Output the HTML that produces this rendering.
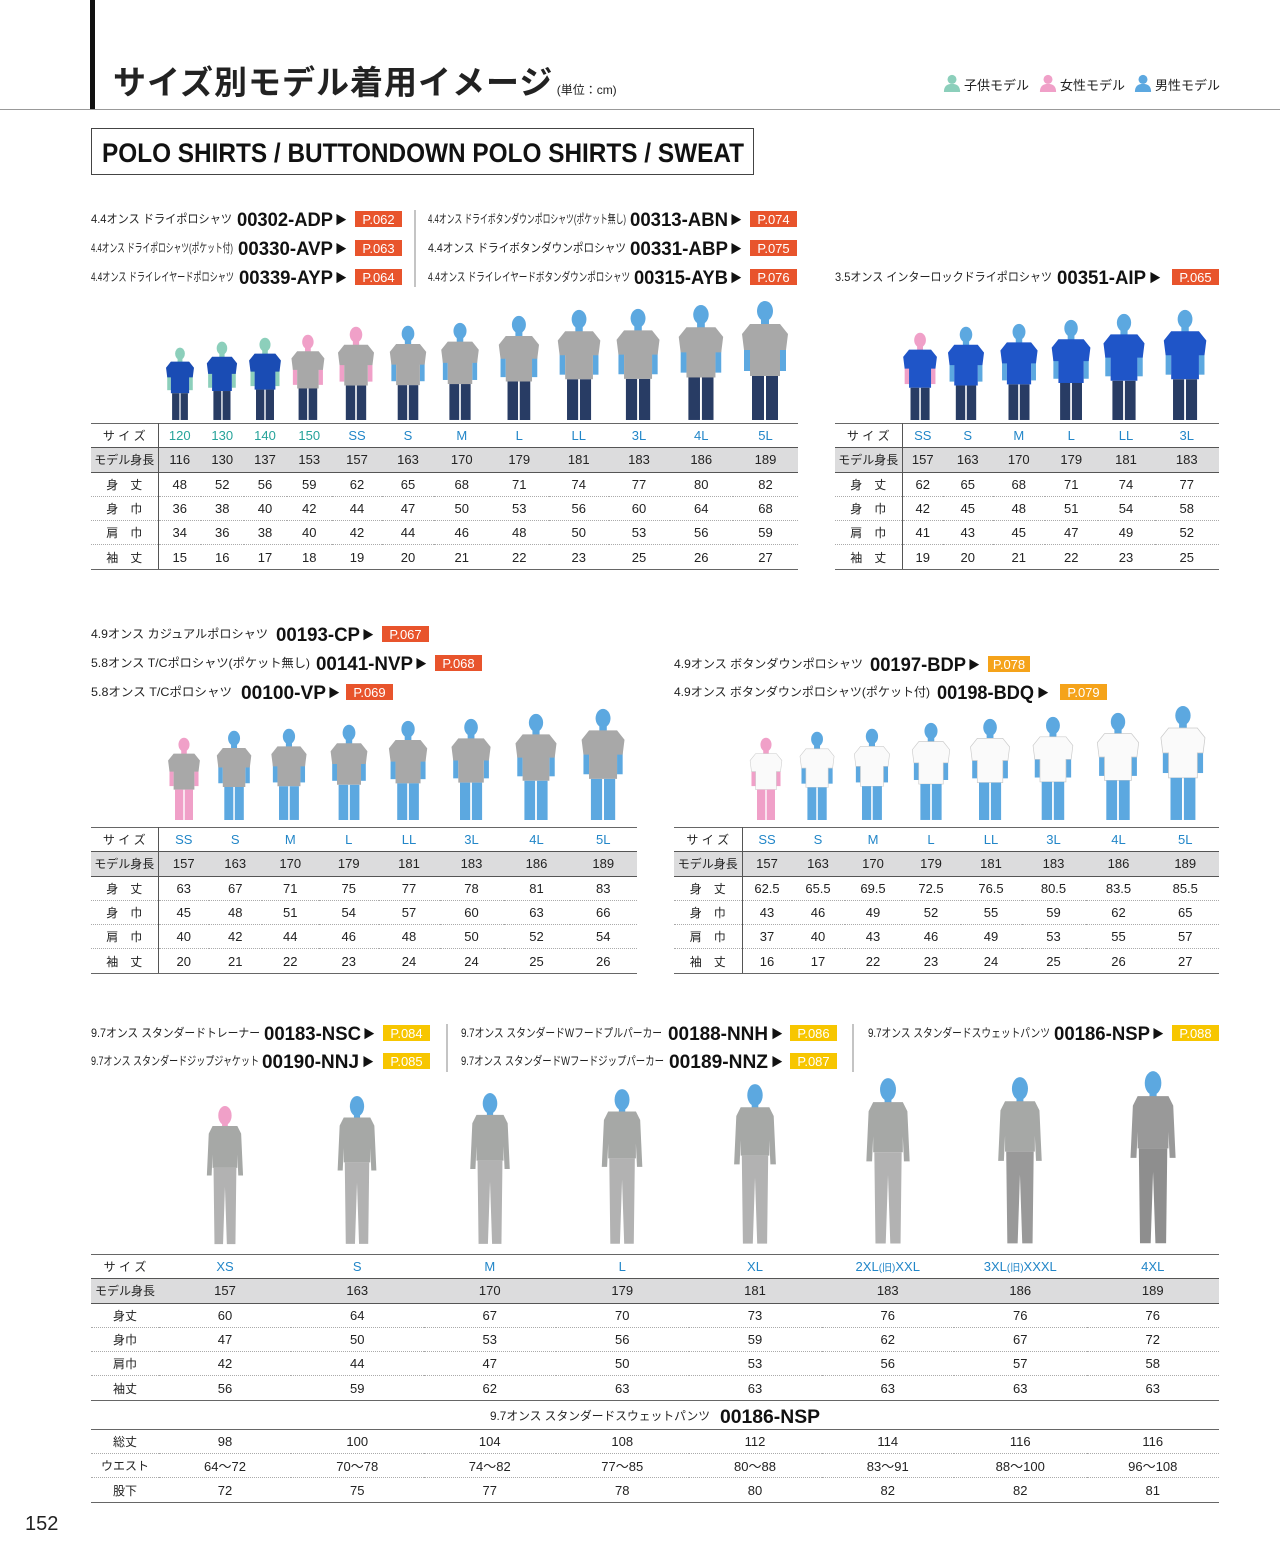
<!DOCTYPE html>
<html><head><meta charset="utf-8">
<style>
*{margin:0;padding:0;box-sizing:border-box}
body{width:1280px;height:1566px;position:relative;background:#fff;font-family:"Liberation Sans","Noto Sans CJK JP",sans-serif;color:#222;overflow:hidden}
.abs{position:absolute}
table{position:absolute;border-collapse:collapse;table-layout:fixed;font-size:13px}
td{height:24.3px;padding:0;text-align:center;white-space:nowrap}
tr.h td{color:#2286c8;border-top:1.5px solid #666;border-bottom:1px solid #555}
tr.h td.k{color:#26a39a}
tr.m td{background:#dcdcdd;border-bottom:1px solid #555}
tr.d td{border-bottom:1px dotted #aaa}
tr.z td{border-bottom:1.5px solid #666}
td.l{border-right:1px solid #555;font-size:12px}
svg text{font-family:"Liberation Sans","Noto Sans CJK JP",sans-serif}
.s{font-size:12px;fill:#222}
.c{font-size:19px;font-weight:bold;fill:#111}
.a{font-size:12px;fill:#111}
.bt{font-size:13px;fill:#fff}
</style></head><body>

<div class="abs" style="left:90px;top:0;width:5px;height:109px;background:#111"></div>
<div class="abs" style="left:0;top:109px;width:1280px;height:1px;background:#999"></div>
<div class="abs" style="left:113px;top:56px;font-size:33px;font-weight:bold;letter-spacing:1px;white-space:nowrap">サイズ別モデル着用イメージ<span style="font-size:12px;font-weight:normal;letter-spacing:0"> (単位：cm)</span></div>
<div class="abs" style="left:964px;top:75px;font-size:13px">子供モデル</div>
<div class="abs" style="left:1060px;top:75px;font-size:13px">女性モデル</div>
<div class="abs" style="left:1155px;top:75px;font-size:13px">男性モデル</div>

<div class="abs" style="left:91px;top:128px;width:663px;height:47px;border:1px solid #444"></div>

<svg class="abs" style="left:0;top:0" width="1280" height="1566">
<defs>
<symbol id="po" viewBox="0 0 50 120">
<ellipse cx="25" cy="11" rx="8" ry="10" fill="var(--h)"/>
<rect x="21" y="18" width="8" height="8" fill="var(--h)"/>
<rect x="4" y="45" width="6" height="26" fill="var(--h)"/>
<rect x="40" y="45" width="6" height="26" fill="var(--h)"/>
<path d="M10 24 L40 24 L48 34 L46 50 L40 50 L40 76 L10 76 L10 50 L4 50 L2 34 Z" fill="var(--s)" stroke="var(--k)" stroke-width="0.8"/>
<rect x="12" y="76" width="12" height="44" fill="var(--l)"/>
<rect x="26" y="76" width="12" height="44" fill="var(--l)"/>
</symbol>
<symbol id="sw" viewBox="0 0 40 150">
<ellipse cx="20" cy="11" rx="7" ry="10" fill="var(--h)"/>
<rect x="17" y="18" width="6" height="6" fill="var(--h)"/>
<path d="M7 22 L33 22 L37 30 L39 74 L34 74 L33 52 L33 66 L7 66 L7 52 L6 74 L1 74 L3 30 Z" fill="var(--s)"/>
<path d="M8 66 L32 66 L31 146 L22 146 L20 86 L18 146 L9 146 Z" fill="var(--p)"/>
</symbol>
<symbol id="ic" viewBox="0 0 20 20"><circle cx="10" cy="6" r="5" fill="var(--h)"/><path d="M1 20 Q1 11 10 11 Q19 11 19 20 Z" fill="var(--h)"/></symbol>
</defs>

<text x="102" y="162" font-size="27" font-weight="bold" fill="#111" textLength="642" lengthAdjust="spacingAndGlyphs">POLO SHIRTS / BUTTONDOWN POLO SHIRTS / SWEAT</text>

<use href="#ic" x="943" y="73" width="18" height="20" style="--h:#8ccfbb"/>
<use href="#ic" x="1039" y="73" width="18" height="20" style="--h:#f0a0c8"/>
<use href="#ic" x="1134" y="73" width="18" height="20" style="--h:#5ca8e0"/>

<line x1="415" y1="210" x2="415" y2="287" stroke="#888"/>
<line x1="447" y1="1024" x2="447" y2="1072" stroke="#888"/>
<line x1="853" y1="1024" x2="853" y2="1072" stroke="#888"/>

<g>
<text class="s" x="91" y="223" textLength="141" lengthAdjust="spacingAndGlyphs">4.4オンス ドライポロシャツ</text>
<text class="c" x="237" y="226" textLength="96" lengthAdjust="spacingAndGlyphs">00302-ADP</text>
<text class="a" x="335" y="224">▶</text>
<rect x="355" y="211" width="47" height="16" fill="#e8542c"/><text class="bt" x="378.5" y="224" text-anchor="middle">P.062</text>

<text class="s" x="91" y="252" textLength="142" lengthAdjust="spacingAndGlyphs">4.4オンス ドライポロシャツ(ポケット付)</text>
<text class="c" x="238" y="255" textLength="95" lengthAdjust="spacingAndGlyphs">00330-AVP</text>
<text class="a" x="335" y="253">▶</text>
<rect x="355" y="240" width="47" height="16" fill="#e8542c"/><text class="bt" x="378.5" y="253" text-anchor="middle">P.063</text>

<text class="s" x="91" y="281" textLength="143" lengthAdjust="spacingAndGlyphs">4.4オンス ドライレイヤードポロシャツ</text>
<text class="c" x="239" y="284" textLength="94" lengthAdjust="spacingAndGlyphs">00339-AYP</text>
<text class="a" x="335" y="282">▶</text>
<rect x="355" y="269" width="47" height="16" fill="#e8542c"/><text class="bt" x="378.5" y="282" text-anchor="middle">P.064</text>

<text class="s" x="428" y="223" textLength="198" lengthAdjust="spacingAndGlyphs">4.4オンス ドライボタンダウンポロシャツ(ポケット無し)</text>
<text class="c" x="630" y="226" textLength="98" lengthAdjust="spacingAndGlyphs">00313-ABN</text>
<text class="a" x="730" y="224">▶</text>
<rect x="750" y="211" width="47" height="16" fill="#e8542c"/><text class="bt" x="773.5" y="224" text-anchor="middle">P.074</text>

<text class="s" x="428" y="252" textLength="198" lengthAdjust="spacingAndGlyphs">4.4オンス ドライボタンダウンポロシャツ</text>
<text class="c" x="630" y="255" textLength="98" lengthAdjust="spacingAndGlyphs">00331-ABP</text>
<text class="a" x="730" y="253">▶</text>
<rect x="750" y="240" width="47" height="16" fill="#e8542c"/><text class="bt" x="773.5" y="253" text-anchor="middle">P.075</text>

<text class="s" x="428" y="281" textLength="202" lengthAdjust="spacingAndGlyphs">4.4オンス ドライレイヤードボタンダウンポロシャツ</text>
<text class="c" x="634" y="284" textLength="94" lengthAdjust="spacingAndGlyphs">00315-AYB</text>
<text class="a" x="730" y="282">▶</text>
<rect x="750" y="269" width="47" height="16" fill="#e8542c"/><text class="bt" x="773.5" y="282" text-anchor="middle">P.076</text>

<text class="s" x="835" y="281" textLength="217" lengthAdjust="spacingAndGlyphs">3.5オンス インターロックドライポロシャツ</text>
<text class="c" x="1057" y="284" textLength="89" lengthAdjust="spacingAndGlyphs">00351-AIP</text>
<text class="a" x="1149" y="282">▶</text>
<rect x="1172" y="269" width="47" height="16" fill="#e8542c"/><text class="bt" x="1195.5" y="282" text-anchor="middle">P.065</text>
</g>

<g>
<text class="s" x="91" y="638" textLength="177" lengthAdjust="spacingAndGlyphs">4.9オンス カジュアルポロシャツ</text>
<text class="c" x="276" y="641" textLength="84" lengthAdjust="spacingAndGlyphs">00193-CP</text>
<text class="a" x="362" y="639">▶</text>
<rect x="382" y="626" width="47" height="16" fill="#e8542c"/><text class="bt" x="405.5" y="639" text-anchor="middle">P.067</text>

<text class="s" x="91" y="667" textLength="219" lengthAdjust="spacingAndGlyphs">5.8オンス T/Cポロシャツ(ポケット無し)</text>
<text class="c" x="316" y="670" textLength="97" lengthAdjust="spacingAndGlyphs">00141-NVP</text>
<text class="a" x="415" y="668">▶</text>
<rect x="435" y="655" width="47" height="16" fill="#e8542c"/><text class="bt" x="458.5" y="668" text-anchor="middle">P.068</text>

<text class="s" x="91" y="696" textLength="141" lengthAdjust="spacingAndGlyphs">5.8オンス T/Cポロシャツ</text>
<text class="c" x="241" y="699" textLength="85" lengthAdjust="spacingAndGlyphs">00100-VP</text>
<text class="a" x="328" y="697">▶</text>
<rect x="346" y="684" width="47" height="16" fill="#e8542c"/><text class="bt" x="369.5" y="697" text-anchor="middle">P.069</text>

<text class="s" x="674" y="668" textLength="189" lengthAdjust="spacingAndGlyphs">4.9オンス ボタンダウンポロシャツ</text>
<text class="c" x="870" y="671" textLength="96" lengthAdjust="spacingAndGlyphs">00197-BDP</text>
<text class="a" x="968" y="669">▶</text>
<rect x="988" y="656" width="42" height="16" fill="#f5a31a"/><text class="bt" x="1009" y="669" text-anchor="middle">P.078</text>

<text class="s" x="674" y="696" textLength="256" lengthAdjust="spacingAndGlyphs">4.9オンス ボタンダウンポロシャツ(ポケット付)</text>
<text class="c" x="937" y="699" textLength="97" lengthAdjust="spacingAndGlyphs">00198-BDQ</text>
<text class="a" x="1037" y="697">▶</text>
<rect x="1060" y="684" width="47" height="16" fill="#f5a31a"/><text class="bt" x="1083.5" y="697" text-anchor="middle">P.079</text>
</g>

<g>
<text class="s" x="91" y="1037" textLength="169" lengthAdjust="spacingAndGlyphs">9.7オンス スタンダードトレーナー</text>
<text class="c" x="264" y="1040" textLength="97" lengthAdjust="spacingAndGlyphs">00183-NSC</text>
<text class="a" x="363" y="1038">▶</text>
<rect x="383" y="1025" width="47" height="16" fill="#f7c600"/><text class="bt" x="406.5" y="1038" text-anchor="middle">P.084</text>

<text class="s" x="91" y="1065" textLength="168" lengthAdjust="spacingAndGlyphs">9.7オンス スタンダードジップジャケット</text>
<text class="c" x="262" y="1068" textLength="97" lengthAdjust="spacingAndGlyphs">00190-NNJ</text>
<text class="a" x="362" y="1066">▶</text>
<rect x="383" y="1053" width="47" height="16" fill="#f7c600"/><text class="bt" x="406.5" y="1066" text-anchor="middle">P.085</text>

<text class="s" x="461" y="1037" textLength="201" lengthAdjust="spacingAndGlyphs">9.7オンス スタンダードWフードプルパーカー</text>
<text class="c" x="668" y="1040" textLength="100" lengthAdjust="spacingAndGlyphs">00188-NNH</text>
<text class="a" x="771" y="1038">▶</text>
<rect x="790" y="1025" width="47" height="16" fill="#f7c600"/><text class="bt" x="813.5" y="1038" text-anchor="middle">P.086</text>

<text class="s" x="461" y="1065" textLength="203" lengthAdjust="spacingAndGlyphs">9.7オンス スタンダードWフードジップパーカー</text>
<text class="c" x="669" y="1068" textLength="99" lengthAdjust="spacingAndGlyphs">00189-NNZ</text>
<text class="a" x="771" y="1066">▶</text>
<rect x="790" y="1053" width="47" height="16" fill="#f7c600"/><text class="bt" x="813.5" y="1066" text-anchor="middle">P.087</text>

<text class="s" x="868" y="1037" textLength="182" lengthAdjust="spacingAndGlyphs">9.7オンス スタンダードスウェットパンツ</text>
<text class="c" x="1054" y="1040" textLength="96" lengthAdjust="spacingAndGlyphs">00186-NSP</text>
<text class="a" x="1152" y="1038">▶</text>
<rect x="1172" y="1025" width="47" height="16" fill="#f7c600"/><text class="bt" x="1195.5" y="1038" text-anchor="middle">P.088</text>

<text class="s" x="490" y="1420" textLength="220" lengthAdjust="spacingAndGlyphs">9.7オンス スタンダードスウェットパンツ</text>
<text class="c" x="720" y="1423" textLength="100" lengthAdjust="spacingAndGlyphs">00186-NSP</text>
</g>

<g style="--k:none;--l:#283c64">
<use href="#po" x="164.8" y="347" width="30.4" height="73" style="--h:#8ccfbb;--s:#1a4cb4"/>
<use href="#po" x="205.5" y="341" width="32.9" height="79" style="--h:#8ccfbb;--s:#1a4cb4"/>
<use href="#po" x="247.7" y="337" width="34.6" height="83" style="--h:#8ccfbb;--s:#1a4cb4"/>
<use href="#po" x="290" y="334" width="35.8" height="86" style="--h:#f0a0c8;--s:#a8a8a8"/>
<use href="#po" x="336.4" y="326" width="39.2" height="94" style="--h:#f0a0c8;--s:#a8a8a8"/>
<use href="#po" x="388.2" y="325" width="39.6" height="95" style="--h:#5ca8e0;--s:#a8a8a8"/>
<use href="#po" x="439.6" y="322" width="40.8" height="98" style="--h:#5ca8e0;--s:#a8a8a8"/>
<use href="#po" x="497" y="315" width="43.8" height="105" style="--h:#5ca8e0;--s:#a8a8a8"/>
<use href="#po" x="555.9" y="309" width="46.3" height="111" style="--h:#5ca8e0;--s:#a8a8a8"/>
<use href="#po" x="614.7" y="308" width="46.7" height="112" style="--h:#5ca8e0;--s:#a8a8a8"/>
<use href="#po" x="676.8" y="304" width="48.3" height="116" style="--h:#5ca8e0;--s:#a8a8a8"/>
<use href="#po" x="740" y="300" width="50" height="120" style="--h:#5ca8e0;--s:#a8a8a8"/>

<use href="#po" x="901.7" y="332" width="36.7" height="88" style="--h:#f0a0c8;--s:#1f55c8"/>
<use href="#po" x="946.4" y="326" width="39.2" height="94" style="--h:#5ca8e0;--s:#1f55c8"/>
<use href="#po" x="998.8" y="323" width="40.4" height="97" style="--h:#5ca8e0;--s:#1f55c8"/>
<use href="#po" x="1050" y="319" width="42.1" height="101" style="--h:#5ca8e0;--s:#1f55c8"/>
<use href="#po" x="1101.7" y="313" width="44.6" height="107" style="--h:#5ca8e0;--s:#1f55c8"/>
<use href="#po" x="1161.9" y="309" width="46.3" height="111" style="--h:#5ca8e0;--s:#1f55c8"/>
</g>

<g style="--k:none">
<use href="#po" x="166.7" y="737" width="34.6" height="83" style="--h:#f0a0c8;--l:#f0a0c8;--s:#a8a8a8"/>
<use href="#po" x="215.3" y="730" width="37.5" height="90" style="--h:#5ca8e0;--l:#5ca8e0;--s:#a8a8a8"/>
<use href="#po" x="269.8" y="728" width="38.3" height="92" style="--h:#5ca8e0;--l:#5ca8e0;--s:#a8a8a8"/>
<use href="#po" x="329" y="724" width="40" height="96" style="--h:#5ca8e0;--l:#5ca8e0;--s:#a8a8a8"/>
<use href="#po" x="387.2" y="720" width="41.7" height="100" style="--h:#5ca8e0;--l:#5ca8e0;--s:#a8a8a8"/>
<use href="#po" x="449.8" y="718" width="42.5" height="102" style="--h:#5ca8e0;--l:#5ca8e0;--s:#a8a8a8"/>
<use href="#po" x="513.7" y="713" width="44.6" height="107" style="--h:#5ca8e0;--l:#5ca8e0;--s:#a8a8a8"/>
<use href="#po" x="579.7" y="708" width="46.7" height="112" style="--h:#5ca8e0;--l:#5ca8e0;--s:#a8a8a8"/>
</g>
<g style="--k:#ccc;--s:#fafafa">
<use href="#po" x="748.7" y="737" width="34.6" height="83" style="--h:#f0a0c8;--l:#f0a0c8"/>
<use href="#po" x="798.5" y="731" width="37.1" height="89" style="--h:#5ca8e0;--l:#5ca8e0"/>
<use href="#po" x="852.8" y="728" width="38.3" height="92" style="--h:#5ca8e0;--l:#5ca8e0"/>
<use href="#po" x="910.6" y="722" width="40.8" height="98" style="--h:#5ca8e0;--l:#5ca8e0"/>
<use href="#po" x="968.8" y="718" width="42.5" height="102" style="--h:#5ca8e0;--l:#5ca8e0"/>
<use href="#po" x="1031.3" y="716" width="43.3" height="104" style="--h:#5ca8e0;--l:#5ca8e0"/>
<use href="#po" x="1095.5" y="712" width="45" height="108" style="--h:#5ca8e0;--l:#5ca8e0"/>
<use href="#po" x="1159" y="705" width="47.9" height="115" style="--h:#5ca8e0;--l:#5ca8e0"/>
</g>

<g style="--s:#a6a8a6;--p:#b2b2b2;--h:#5ca8e0">
<use href="#sw" x="205.9" y="1105" width="38.1" height="143" style="--h:#f0a0c8"/>
<use href="#sw" x="336.6" y="1095" width="40.8" height="153"/>
<use href="#sw" x="469.2" y="1092" width="41.6" height="156"/>
<use href="#sw" x="600.7" y="1088" width="42.7" height="160"/>
<use href="#sw" x="733" y="1083" width="44" height="165"/>
<use href="#sw" x="865.2" y="1077" width="45.6" height="171"/>
<use href="#sw" x="997" y="1076" width="45.9" height="172" style="--p:#999"/>
<use href="#sw" x="1129.3" y="1070" width="47.5" height="178" style="--s:#999;--p:#8e8e8e"/>
</g>
</svg>

<table style="left:91px;top:423px;width:707px">
<colgroup><col style="width:67px"><col style="width:43px"><col style="width:42.5px"><col style="width:43px"><col style="width:45.5px"><col style="width:50px"><col style="width:52px"><col style="width:55.5px"><col style="width:59.5px"><col style="width:59.5px"><col style="width:61px"><col style="width:63.5px"><col style="width:65px"></colgroup>
<tr class="h"><td class="l" style="color:#222">サ イ ズ</td><td class="k">120</td><td class="k">130</td><td class="k">140</td><td class="k">150</td><td>SS</td><td>S</td><td>M</td><td>L</td><td>LL</td><td>3L</td><td>4L</td><td>5L</td></tr>
<tr class="m"><td class="l">モデル身長</td><td>116</td><td>130</td><td>137</td><td>153</td><td>157</td><td>163</td><td>170</td><td>179</td><td>181</td><td>183</td><td>186</td><td>189</td></tr>
<tr class="d"><td class="l">身　丈</td><td>48</td><td>52</td><td>56</td><td>59</td><td>62</td><td>65</td><td>68</td><td>71</td><td>74</td><td>77</td><td>80</td><td>82</td></tr>
<tr class="d"><td class="l">身　巾</td><td>36</td><td>38</td><td>40</td><td>42</td><td>44</td><td>47</td><td>50</td><td>53</td><td>56</td><td>60</td><td>64</td><td>68</td></tr>
<tr class="d"><td class="l">肩　巾</td><td>34</td><td>36</td><td>38</td><td>40</td><td>42</td><td>44</td><td>46</td><td>48</td><td>50</td><td>53</td><td>56</td><td>59</td></tr>
<tr class="z"><td class="l">袖　丈</td><td>15</td><td>16</td><td>17</td><td>18</td><td>19</td><td>20</td><td>21</td><td>22</td><td>23</td><td>25</td><td>26</td><td>27</td></tr>
</table>

<table style="left:835px;top:423px;width:384px">
<colgroup><col style="width:67px"><col style="width:41px"><col style="width:49.5px"><col style="width:52.5px"><col style="width:52.5px"><col style="width:57px"><col style="width:64.5px"></colgroup>
<tr class="h"><td class="l" style="color:#222">サ イ ズ</td><td>SS</td><td>S</td><td>M</td><td>L</td><td>LL</td><td>3L</td></tr>
<tr class="m"><td class="l">モデル身長</td><td>157</td><td>163</td><td>170</td><td>179</td><td>181</td><td>183</td></tr>
<tr class="d"><td class="l">身　丈</td><td>62</td><td>65</td><td>68</td><td>71</td><td>74</td><td>77</td></tr>
<tr class="d"><td class="l">身　巾</td><td>42</td><td>45</td><td>48</td><td>51</td><td>54</td><td>58</td></tr>
<tr class="d"><td class="l">肩　巾</td><td>41</td><td>43</td><td>45</td><td>47</td><td>49</td><td>52</td></tr>
<tr class="z"><td class="l">袖　丈</td><td>19</td><td>20</td><td>21</td><td>22</td><td>23</td><td>25</td></tr>
</table>

<table style="left:91px;top:827px;width:546px">
<colgroup><col style="width:67px"><col style="width:51px"><col style="width:52.5px"><col style="width:57.5px"><col style="width:59.5px"><col style="width:61px"><col style="width:64px"><col style="width:66px"><col style="width:67.5px"></colgroup>
<tr class="h"><td class="l" style="color:#222">サ イ ズ</td><td>SS</td><td>S</td><td>M</td><td>L</td><td>LL</td><td>3L</td><td>4L</td><td>5L</td></tr>
<tr class="m"><td class="l">モデル身長</td><td>157</td><td>163</td><td>170</td><td>179</td><td>181</td><td>183</td><td>186</td><td>189</td></tr>
<tr class="d"><td class="l">身　丈</td><td>63</td><td>67</td><td>71</td><td>75</td><td>77</td><td>78</td><td>81</td><td>83</td></tr>
<tr class="d"><td class="l">身　巾</td><td>45</td><td>48</td><td>51</td><td>54</td><td>57</td><td>60</td><td>63</td><td>66</td></tr>
<tr class="d"><td class="l">肩　巾</td><td>40</td><td>42</td><td>44</td><td>46</td><td>48</td><td>50</td><td>52</td><td>54</td></tr>
<tr class="z"><td class="l">袖　丈</td><td>20</td><td>21</td><td>22</td><td>23</td><td>24</td><td>24</td><td>25</td><td>26</td></tr>
</table>

<table style="left:674px;top:827px;width:545px">
<colgroup><col style="width:68px"><col style="width:49.5px"><col style="width:53px"><col style="width:57px"><col style="width:59px"><col style="width:61px"><col style="width:64px"><col style="width:66px"><col style="width:67.5px"></colgroup>
<tr class="h"><td class="l" style="color:#222">サ イ ズ</td><td>SS</td><td>S</td><td>M</td><td>L</td><td>LL</td><td>3L</td><td>4L</td><td>5L</td></tr>
<tr class="m"><td class="l">モデル身長</td><td>157</td><td>163</td><td>170</td><td>179</td><td>181</td><td>183</td><td>186</td><td>189</td></tr>
<tr class="d"><td class="l">身　丈</td><td>62.5</td><td>65.5</td><td>69.5</td><td>72.5</td><td>76.5</td><td>80.5</td><td>83.5</td><td>85.5</td></tr>
<tr class="d"><td class="l">身　巾</td><td>43</td><td>46</td><td>49</td><td>52</td><td>55</td><td>59</td><td>62</td><td>65</td></tr>
<tr class="d"><td class="l">肩　巾</td><td>37</td><td>40</td><td>43</td><td>46</td><td>49</td><td>53</td><td>55</td><td>57</td></tr>
<tr class="z"><td class="l">袖　丈</td><td>16</td><td>17</td><td>22</td><td>23</td><td>24</td><td>25</td><td>26</td><td>27</td></tr>
</table>

<table style="left:91px;top:1254px;width:1128px">
<colgroup><col style="width:68px"><col style="width:132px"><col style="width:132.5px"><col style="width:132.5px"><col style="width:132.5px"><col style="width:133px"><col style="width:132.5px"><col style="width:132.5px"><col style="width:132.5px"></colgroup>
<tr class="h"><td style="color:#222;font-size:12px">サ イ ズ</td><td>XS</td><td>S</td><td>M</td><td>L</td><td>XL</td><td>2XL<span style="font-size:10px">(旧)</span>XXL</td><td>3XL<span style="font-size:10px">(旧)</span>XXXL</td><td>4XL</td></tr>
<tr class="m"><td style="font-size:12px">モデル身長</td><td>157</td><td>163</td><td>170</td><td>179</td><td>181</td><td>183</td><td>186</td><td>189</td></tr>
<tr class="d"><td style="font-size:12px">身丈</td><td>60</td><td>64</td><td>67</td><td>70</td><td>73</td><td>76</td><td>76</td><td>76</td></tr>
<tr class="d"><td style="font-size:12px">身巾</td><td>47</td><td>50</td><td>53</td><td>56</td><td>59</td><td>62</td><td>67</td><td>72</td></tr>
<tr class="d"><td style="font-size:12px">肩巾</td><td>42</td><td>44</td><td>47</td><td>50</td><td>53</td><td>56</td><td>57</td><td>58</td></tr>
<tr class="z"><td style="font-size:12px">袖丈</td><td>56</td><td>59</td><td>62</td><td>63</td><td>63</td><td>63</td><td>63</td><td>63</td></tr>
<tr class="z"><td colspan="9" style="height:29px"></td></tr>
<tr class="d"><td style="font-size:12px">総丈</td><td>98</td><td>100</td><td>104</td><td>108</td><td>112</td><td>114</td><td>116</td><td>116</td></tr>
<tr class="d"><td style="font-size:12px">ウエスト</td><td>64〜72</td><td>70〜78</td><td>74〜82</td><td>77〜85</td><td>80〜88</td><td>83〜91</td><td>88〜100</td><td>96〜108</td></tr>
<tr class="z"><td style="font-size:12px">股下</td><td>72</td><td>75</td><td>77</td><td>78</td><td>80</td><td>82</td><td>82</td><td>81</td></tr>
</table>

<div class="abs" style="left:25px;top:1513px;font-size:20px">152</div>
</body></html>
